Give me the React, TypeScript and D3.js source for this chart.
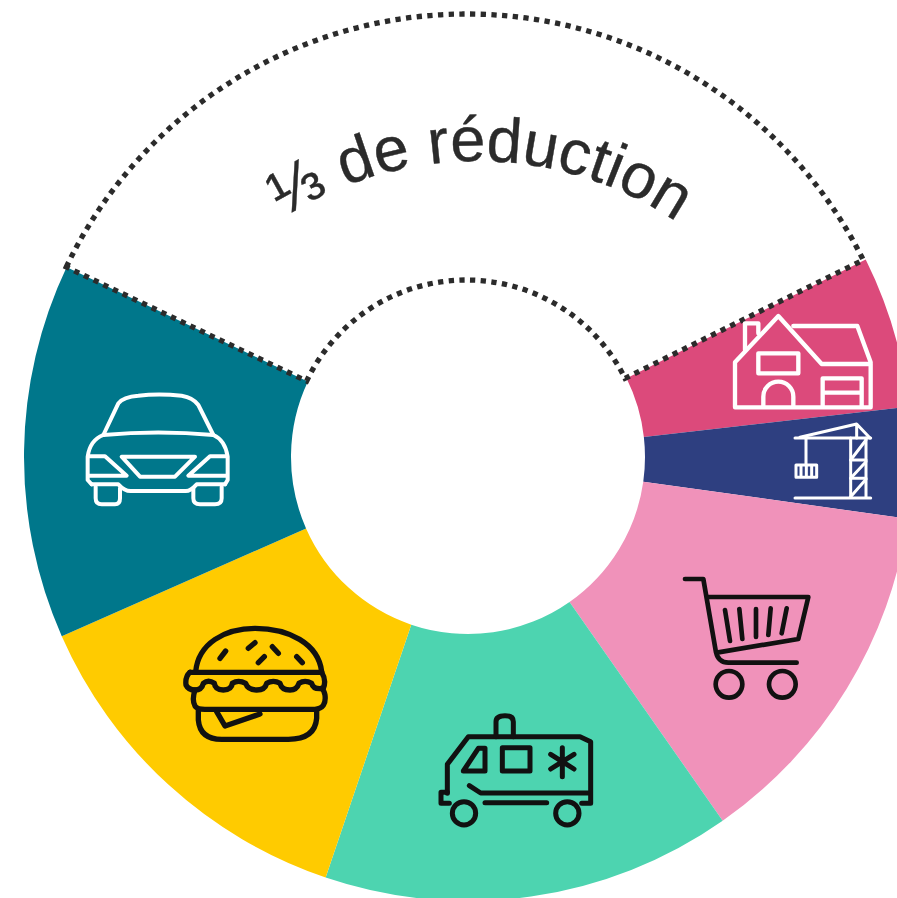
import React from "react";
import * as d3 from "d3";

const WIDTH = 897;
const HEIGHT = 898;
const CENTER_X = 468;
const CENTER_Y = 457;
const OUTER_RADIUS = 444;
const INNER_RADIUS = 177;
const DOTTED_OUTER_RADIUS = 443;
const DOTTED_SHIFT = -1.5;
const LABEL_CENTER_X = 477;
const LABEL_CENTER_Y = 518;
const LABEL_RADIUS = 357;

const categories = ["réduction", "logement", "construction", "courses", "santé", "alimentation", "voiture"];
const sliceValues = [128.2, 19.9, 14.5, 47, 53.7, 47.5, 49.2];
const sliceColors = ["#ffffff", "#dc4a7b", "#2e3f80", "#f092ba", "#4dd4b0", "#ffcb00", "#00778b"];
const startDegrees = -64.6;
const centerLabel = "⅓ de réduction";

type Icon = { ox: number; oy: number; color: string; width: number; paths: string[]; circles?: number[][] };

const icons: Icon[] = [
  {
    ox: 720, oy: 300, color: "#ffffff", width: 13,
    paths: [
      "M45 322 V187 L175 48 L305 192 H452 V322 Z",
      "M220 78 H412 L452 187",
      "M75 150 V70 H115 V100",
      "M115 160 H235 V220 H115 Z",
      "M130 320 V290 A45 45 0 0 1 220 290 V320",
      "M308 320 V235 H425 V320 M308 278 H425",
    ],
  },
  {
    ox: 720, oy: 300, color: "#ffffff", width: 9,
    paths: [
      "M225 414 H452",
      "M240 412 L410 372 L450 414 M410 372 V414",
      "M258 414 V495",
      "M228 495 H290 V532 H228 Z M243 495 V532 M259 495 V532 M275 495 V532",
      "M392 414 V592 M438 414 V592",
      "M392 480 H438 M392 535 H438",
      "M392 480 L438 420 M392 535 L438 485 M392 590 L438 538",
      "M225 594 H452",
    ],
  },
  {
    ox: 670, oy: 565, color: "#111111", width: 14,
    paths: [
      "M45 42 H100 L138 262 Q145 293 175 293 H380",
      "M112 96 H415 L385 222 L145 262",
      "M165 135 L180 228 M208 132 L217 222 M258 132 V216 M302 130 L295 210 M350 130 L335 205",
    ],
    circles: [[177, 358, 40], [337, 358, 40]],
  },
  {
    ox: 430, oy: 705, color: "#111111", width: 15,
    paths: [
      "M52 265 V178 L115 95 H450 L482 110 V295 H455",
      "M52 262 H33 V295 H58",
      "M198 95 V50 Q198 32 225 32 Q250 32 250 50 V95",
      "M100 198 L145 130 H165 V198 Z",
      "M217 128 H300 V198 H217 Z",
      "M397 128 V215 M362 148 L432 192 M432 148 L362 192",
      "M118 242 L152 264 H475",
      "M165 293 H350",
    ],
    circles: [[102, 325, 35], [412, 325, 35]],
  },
  {
    ox: 175, oy: 620, color: "#111111", width: 16,
    paths: [
      "M62 155 C70 70 150 25 240 25 C340 25 430 70 440 155",
      "M45 157 H440",
      "M45 157 Q30 170 33 195 Q40 210 60 210 Q80 210 85 190 Q100 178 118 190 Q120 210 145 210 Q170 210 172 190 Q190 178 212 190 Q218 210 245 210 Q270 210 275 190 Q295 178 315 190 Q320 210 345 210 Q365 210 372 190 Q390 178 410 190 Q415 210 445 205 Q455 180 440 157",
      "M60 210 Q50 240 60 258 Q65 268 90 268 H420 Q455 265 450 225 Q447 210 440 205",
      "M70 270 V300 Q75 358 140 358 H340 Q420 358 425 295 V270",
      "M125 275 L150 318 L255 282",
      "M135 115 L152 93 M220 85 L240 68 M292 80 L310 100 M250 128 L268 110 M365 110 L382 128",
    ],
  },
  {
    ox: 75, oy: 385, color: "#ffffff", width: 12,
    paths: [
      "M85 150 L130 55 Q145 35 190 32 Q250 25 320 32 Q355 38 370 60 L415 150",
      "M85 150 Q250 135 415 150 Q450 165 458 215 V285 L450 298",
      "M85 150 Q45 165 38 215 V285 L50 298",
      "M50 298 H130 Q150 320 170 318 H330 Q345 320 365 298 H450",
      "M62 305 V340 Q62 358 80 358 H120 Q135 358 135 340 V310",
      "M355 310 V340 Q355 358 375 358 H420 Q440 358 440 340 V305",
      "M40 214 H90 L155 272 H42",
      "M456 214 H405 L340 272 H456",
      "M140 215 H360 L300 275 H195 Z",
    ],
  },
];

export default function App() {
  const pie = d3
    .pie<number>()
    .sort(null)
    .value((d) => d)
    .startAngle((startDegrees * Math.PI) / 180)
    .endAngle(((startDegrees + 360) * Math.PI) / 180);
  const arcs = pie(sliceValues);
  const arc = d3.arc<d3.PieArcDatum<number>>().innerRadius(INNER_RADIUS).outerRadius(OUTER_RADIUS);
  const dottedArc = d3.arc<d3.PieArcDatum<number>>().innerRadius(INNER_RADIUS).outerRadius(DOTTED_OUTER_RADIUS);
  const labelPath = d3.path();
  labelPath.arc(LABEL_CENTER_X - CENTER_X, LABEL_CENTER_Y - CENTER_Y, LABEL_RADIUS, -Math.PI, 0);

  return (
    <svg
      width={WIDTH}
      height={HEIGHT}
      viewBox={`0 0 ${WIDTH} ${HEIGHT}`}
      style={{ position: "fixed", left: 0, top: 0, display: "block", background: "#fff" }}
    >
      <g transform={`translate(${CENTER_X},${CENTER_Y})`}>
        {arcs.map((a, i) =>
          i === 0 ? null : <path key={categories[i]} d={arc(a) ?? ""} fill={sliceColors[i]} />
        )}
        <path
          d={dottedArc(arcs[0]) ?? ""}
          transform={`translate(${DOTTED_SHIFT},0)`}
          fill={sliceColors[0]}
          stroke="#2b2b2b"
          strokeWidth={5.3}
          strokeDasharray="5.3 5.4"
        />
        <path id="label-arc" d={labelPath.toString()} fill="none" />
        <text
          fontFamily="'Liberation Sans', Arial, sans-serif"
          fontSize={63}
          fill="#2b2b2b"
          stroke="#2b2b2b"
          strokeWidth={0.4}
          textAnchor="middle"
        >
          <textPath href="#label-arc" startOffset="50.3%">
            {centerLabel}
          </textPath>
        </text>
      </g>
      {icons.map((icon, i) => (
        <g
          key={i}
          transform={`translate(${icon.ox},${icon.oy}) scale(${1 / 3})`}
          fill="none"
          stroke={icon.color}
          strokeWidth={icon.width}
          strokeLinejoin="round"
          strokeLinecap="round"
        >
          {icon.paths.map((p, j) => (
            <path key={j} d={p} />
          ))}
          {(icon.circles ?? []).map(([cx, cy, r], j) => (
            <circle key={j} cx={cx} cy={cy} r={r} />
          ))}
        </g>
      ))}
    </svg>
  );
}
